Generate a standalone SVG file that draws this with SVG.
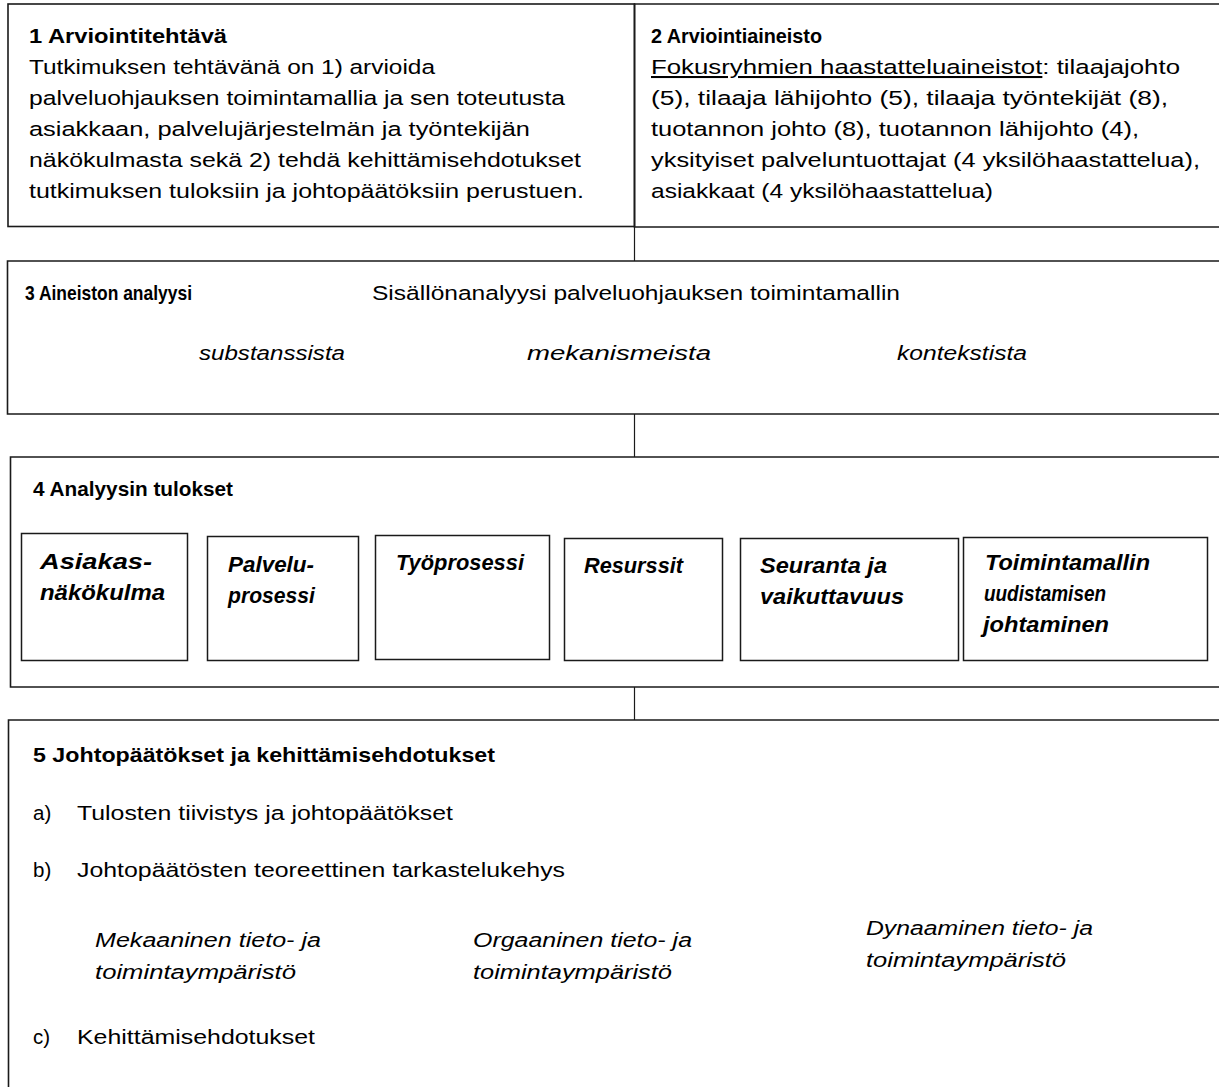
<svg xmlns="http://www.w3.org/2000/svg" width="1219" height="1087" viewBox="0 0 1219 1087">
<style>
  .box{fill:none;stroke:#1a1a1a;stroke-width:1.6}
  .inner{fill:#fff;stroke:#1a1a1a;stroke-width:1.5}
  .conn{stroke:#1a1a1a;stroke-width:1.2;fill:none}
  text{font-family:"Liberation Sans",Arial,sans-serif;font-size:20.5px;fill:#000}
  .b{font-weight:bold}
  .i{font-style:italic}
  .bi{font-weight:bold;font-style:italic;font-size:22px}
</style>
<rect width="1219" height="1087" fill="#fff"/>
<g id="connectors">
  <line class="conn" x1="634.5" y1="227" x2="634.5" y2="261"/>
  <line class="conn" x1="634.5" y1="414" x2="634.5" y2="457"/>
  <line class="conn" x1="634.5" y1="687" x2="634.5" y2="720"/>
</g>
<g id="node1">
  <rect class="box" x="8" y="4" width="626.5" height="222.5"/>
  <text class="b" x="29" y="43" textLength="198" lengthAdjust="spacingAndGlyphs">1 Arviointitehtävä</text>
  <text x="29" y="74" textLength="406" lengthAdjust="spacingAndGlyphs">Tutkimuksen tehtävänä on 1) arvioida</text>
  <text x="29" y="105" textLength="536" lengthAdjust="spacingAndGlyphs">palveluohjauksen toimintamallia ja sen toteutusta</text>
  <text x="29" y="136" textLength="501" lengthAdjust="spacingAndGlyphs">asiakkaan, palvelujärjestelmän ja työntekijän</text>
  <text x="29" y="167" textLength="552" lengthAdjust="spacingAndGlyphs">näkökulmasta sekä 2) tehdä kehittämisehdotukset</text>
  <text x="29" y="198" textLength="555" lengthAdjust="spacingAndGlyphs">tutkimuksen tuloksiin ja johtopäätöksiin perustuen.</text>
</g>
<g id="node2">
  <path class="box" d="M1219,4 H634.5 V227 H1219"/>
  <text class="b" x="651" y="43" textLength="171" lengthAdjust="spacingAndGlyphs">2 Arviointiaineisto</text>
  <text x="651" y="74" textLength="529" lengthAdjust="spacingAndGlyphs"><tspan text-decoration="underline">Fokusryhmien haastatteluaineistot</tspan>: tilaajajohto</text>
  <text x="651" y="105" textLength="517" lengthAdjust="spacingAndGlyphs">(5), tilaaja lähijohto (5), tilaaja työntekijät (8),</text>
  <text x="651" y="136" textLength="488" lengthAdjust="spacingAndGlyphs">tuotannon johto (8), tuotannon lähijohto (4),</text>
  <text x="651" y="167" textLength="549" lengthAdjust="spacingAndGlyphs">yksityiset palveluntuottajat (4 yksilöhaastattelua),</text>
  <text x="651" y="198" textLength="342" lengthAdjust="spacingAndGlyphs">asiakkaat (4 yksilöhaastattelua)</text>
</g>
<g id="node3">
  <path class="box" d="M1219,261 H7.5 V414 H1219"/>
  <text class="b" x="25" y="300" textLength="167" lengthAdjust="spacingAndGlyphs">3 Aineiston analyysi</text>
  <text x="372" y="300" textLength="528" lengthAdjust="spacingAndGlyphs">Sisällönanalyysi palveluohjauksen toimintamallin</text>
  <text class="i" x="199" y="360" textLength="146" lengthAdjust="spacingAndGlyphs">substanssista</text>
  <text class="i" x="527" y="360" textLength="184" lengthAdjust="spacingAndGlyphs">mekanismeista</text>
  <text class="i" x="897" y="360" textLength="130" lengthAdjust="spacingAndGlyphs">kontekstista</text>
</g>
<g id="node4">
  <path class="box" d="M1219,457 H10.5 V687 H1219"/>
  <text class="b" x="33" y="496" textLength="200" lengthAdjust="spacingAndGlyphs">4 Analyysin tulokset</text>
</g>
<g id="node4a">
  <rect class="inner" x="21.5" y="533.5" width="166" height="127"/>
  <text class="bi" x="40" y="569" textLength="112" lengthAdjust="spacingAndGlyphs">Asiakas-</text>
  <text class="bi" x="40" y="600" textLength="125" lengthAdjust="spacingAndGlyphs">näkökulma</text>
</g>
<g id="node4b">
  <rect class="inner" x="207.5" y="536.5" width="151" height="124"/>
  <text class="bi" x="228" y="572" textLength="86" lengthAdjust="spacingAndGlyphs">Palvelu-</text>
  <text class="bi" x="228" y="603" textLength="87" lengthAdjust="spacingAndGlyphs">prosessi</text>
</g>
<g id="node4c">
  <rect class="inner" x="375.5" y="535.5" width="174" height="124"/>
  <text class="bi" x="396" y="570" textLength="128" lengthAdjust="spacingAndGlyphs">Työprosessi</text>
</g>
<g id="node4d">
  <rect class="inner" x="564.5" y="538.5" width="158" height="122"/>
  <text class="bi" x="584" y="573" textLength="99" lengthAdjust="spacingAndGlyphs">Resurssit</text>
</g>
<g id="node4e">
  <rect class="inner" x="740.5" y="538.5" width="218" height="122"/>
  <text class="bi" x="760" y="573" textLength="127" lengthAdjust="spacingAndGlyphs">Seuranta ja</text>
  <text class="bi" x="760" y="604" textLength="144" lengthAdjust="spacingAndGlyphs">vaikuttavuus</text>
</g>
<g id="node4f">
  <rect class="inner" x="963.5" y="537.5" width="244" height="123"/>
  <text class="bi" x="985" y="570" textLength="165" lengthAdjust="spacingAndGlyphs">Toimintamallin</text>
  <text class="bi" x="984" y="601" textLength="122" lengthAdjust="spacingAndGlyphs">uudistamisen</text>
  <text class="bi" x="983" y="632" textLength="126" lengthAdjust="spacingAndGlyphs">johtaminen</text>
</g>
<g id="node5">
  <path class="box" d="M1219,720 H8.5 V1090"/>
  <text class="b" x="33" y="762" textLength="462" lengthAdjust="spacingAndGlyphs">5 Johtopäätökset ja kehittämisehdotukset</text>
  <text x="33" y="820">a)</text>
  <text x="77" y="820" textLength="376" lengthAdjust="spacingAndGlyphs">Tulosten tiivistys ja johtopäätökset</text>
  <text x="33" y="877">b)</text>
  <text x="77" y="877" textLength="488" lengthAdjust="spacingAndGlyphs">Johtopäätösten teoreettinen tarkastelukehys</text>
  <text class="i" x="95" y="947" textLength="226" lengthAdjust="spacingAndGlyphs">Mekaaninen tieto- ja</text>
  <text class="i" x="95" y="979" textLength="201" lengthAdjust="spacingAndGlyphs">toimintaympäristö</text>
  <text class="i" x="473" y="947" textLength="219" lengthAdjust="spacingAndGlyphs">Orgaaninen tieto- ja</text>
  <text class="i" x="473" y="979" textLength="199" lengthAdjust="spacingAndGlyphs">toimintaympäristö</text>
  <text class="i" x="866" y="935" textLength="227" lengthAdjust="spacingAndGlyphs">Dynaaminen tieto- ja</text>
  <text class="i" x="866" y="967" textLength="200" lengthAdjust="spacingAndGlyphs">toimintaympäristö</text>
  <text x="33" y="1044">c)</text>
  <text x="77" y="1044" textLength="238" lengthAdjust="spacingAndGlyphs">Kehittämisehdotukset</text>
</g>
</svg>
